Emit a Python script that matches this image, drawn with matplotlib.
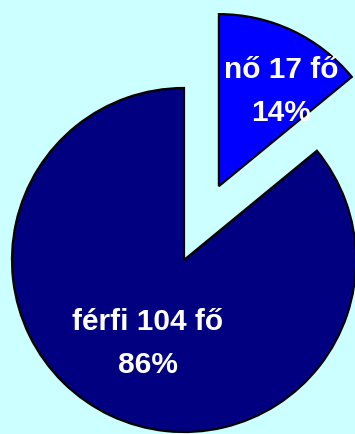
import numpy as np
import matplotlib
matplotlib.use("Agg")
import matplotlib.pyplot as plt

# data
categories = ["nő", "férfi"]
counts = [17, 104]
percents = [14, 86]
colors = ["#0000FF", "#000080"]
explode = [0.475, 0.0]

plt.rcParams["font.family"] = ["Liberation Sans", "DejaVu Sans"]

W, H = 355, 434
fig = plt.figure(figsize=(W / 100, H / 100), dpi=100, facecolor="#CCFFFF")
ax = fig.add_axes([0, 0, 1, 1])
ax.set_facecolor("#CCFFFF")
ax.axis("off")

# radius 1 == 172 px; pie centre at (184, 260) px from top-left
scale = 172.0
cx, cy = 184.0, 260.0

wedges, _ = ax.pie(
    counts,
    colors=colors,
    explode=explode,
    startangle=90,
    counterclock=False,
    radius=1.0,
    wedgeprops=dict(edgecolor="black", linewidth=1.6),
)
ax.set_xlim(-cx / scale, (W - cx) / scale)
ax.set_ylim(-(H - cy) / scale, cy / scale)
ax.set_aspect("auto")

# label placement along each wedge (radial fraction, angle shift in degrees)
label_r = [0.66, 0.53]
label_shift = [-8, 2]
for w, cat, n, p, r, s in zip(wedges, categories, counts, percents, label_r, label_shift):
    ang = np.deg2rad((w.theta1 + w.theta2) / 2 + s)
    x = w.center[0] + r * np.cos(ang)
    y = w.center[1] + r * np.sin(ang)
    ax.text(x, y, f"{cat} {n} fő\n{p}%", ha="center", va="center",
            color="white", fontsize=21.5, fontweight="bold", linespacing=1.7)

fig.savefig("out.png", dpi=100, facecolor=fig.get_facecolor())
